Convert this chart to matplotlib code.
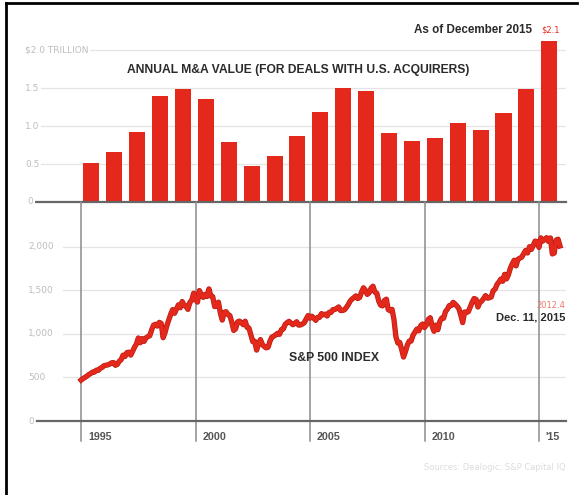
import numpy as np
import matplotlib
matplotlib.use("Agg")
import matplotlib.pyplot as plt
import matplotlib.patheffects as pe
from matplotlib.transforms import blended_transform_factory as blend

# annual M&A value, trillions of dollars (deals with U.S. acquirers)
years = list(range(1995, 2016))
ma_value = [0.51, 0.66, 0.92, 1.39, 1.49, 1.36, 0.79, 0.47, 0.60, 0.87,
            1.18, 1.50, 1.46, 0.91, 0.80, 0.84, 1.04, 0.95, 1.17, 1.49, 2.12]

# S&P 500, month-end closes 1995-2015 (last point Dec. 11, 2015)
sp500 = [
    470, 487, 501, 515, 533, 545, 562, 562, 584, 582, 605, 616,
    636, 640, 645, 654, 669, 671, 640, 652, 687, 705, 757, 741,
    786, 791, 757, 801, 848, 885, 954, 899, 947, 915, 955, 970,
    980, 1049, 1102, 1112, 1091, 1134, 1121, 957, 1017, 1099, 1164, 1229,
    1280, 1238, 1286, 1335, 1302, 1373, 1329, 1320, 1283, 1363, 1389, 1469,
    1394, 1366, 1499, 1452, 1421, 1455, 1431, 1518, 1437, 1429, 1315, 1320,
    1366, 1240, 1160, 1249, 1256, 1224, 1211, 1134, 1041, 1060, 1139, 1148,
    1130, 1107, 1147, 1077, 1067, 990, 912, 916, 815, 886, 936, 880,
    856, 841, 848, 917, 964, 975, 990, 1008, 996, 1051, 1058, 1112,
    1131, 1145, 1126, 1107, 1121, 1141, 1102, 1104, 1115, 1130, 1174, 1212,
    1181, 1204, 1181, 1157, 1192, 1191, 1234, 1220, 1229, 1207, 1249, 1248,
    1280, 1281, 1295, 1311, 1270, 1270, 1277, 1304, 1336, 1378, 1401, 1418,
    1438, 1407, 1421, 1482, 1531, 1503, 1455, 1474, 1527, 1549, 1481, 1468,
    1379, 1331, 1323, 1386, 1400, 1280, 1267, 1283, 1165, 969, 896, 903,
    826, 735, 798, 873, 919, 919, 987, 1021, 1057, 1036, 1096, 1115,
    1074, 1104, 1169, 1187, 1089, 1031, 1102, 1049, 1141, 1183, 1181, 1258,
    1286, 1327, 1326, 1364, 1345, 1321, 1292, 1219, 1131, 1253, 1247, 1258,
    1312, 1366, 1408, 1398, 1310, 1362, 1379, 1407, 1441, 1412, 1416, 1426,
    1498, 1515, 1569, 1598, 1631, 1606, 1686, 1633, 1682, 1757, 1806, 1848,
    1783, 1859, 1872, 1884, 1924, 1960, 1931, 2003, 1972, 2018, 2068, 2059,
    1995, 2105, 2068, 2086, 2107, 2063, 2104, 1920, 1930, 2079, 2090, 2012,
]
sp_dates = 1995 + np.arange(len(sp500)) / 12.0

bar_ticks = [0.5, 1.0, 1.5, 2.0]
bar_labels = ["0.5", "1.0", "1.5", "$2.0 TRILLION"]
sp_ticks = [500, 1000, 1500, 2000]
sp_labels = ["500", "1,000", "1,500", "2,000"]
year_ticks = [1995, 2000, 2005, 2010, 2015]
year_labels = ["1995", "2000", "2005", "2010", "'15"]

RED = "#e5281c"
GRID = "#e4e4e4"
DARK = "#2b2b2b"
W, H = 584, 495
BOLDFONT = ["Liberation Sans", "DejaVu Sans"]

fig = plt.figure(figsize=(W / 100, H / 100), dpi=100)
fig.patch.set_facecolor("white")


def frac(x0, y0, x1, y1):
    # pixel box -> figure fraction [left, bottom, width, height]
    return [x0 / W, 1 - y1 / H, (x1 - x0) / W, (y1 - y0) / H]


ax1 = fig.add_axes(frac(25, 38, 566, 202))
ax2 = fig.add_axes(frac(25, 202, 566, 421))

xlim = (1992.55, 2016.18)
for ax in (ax1, ax2):
    ax.set_xlim(*xlim)
    ax.axis("off")

# --- top: bars
ax1.set_ylim(0, 2.16)
for t in bar_ticks:
    ax1.axhline(t, color=GRID, lw=0.9, zorder=0)
ax1.bar([y + 0.45 for y in years], ma_value, width=0.7, color=RED, zorder=2)
ax1.axhline(0, color="#666666", lw=1.6, xmin=0.015, zorder=3, clip_on=False)
tr1 = blend(ax1.transAxes, ax1.transData)
for t, lab in zip(bar_ticks, bar_labels):
    ax1.text(0.0, t, lab, transform=tr1, ha="left", va="center", fontsize=6.5,
             color="#bdbdbd", zorder=4,
             bbox=dict(facecolor="white", edgecolor="none", pad=1.0))
ax1.text(0.005, 0, "0", transform=tr1, ha="left", va="center", fontsize=6.5,
         color="#bdbdbd", zorder=4,
         bbox=dict(facecolor="white", edgecolor="none", pad=1.0))

# --- bottom: S&P line
ax2.set_ylim(0, 2517)
for t in sp_ticks:
    ax2.axhline(t, color=GRID, lw=0.9, xmin=0.07, zorder=0)
for yr in year_ticks:
    ax2.axvline(yr, ymin=-0.09, ymax=1.0, color="#8c8c8c", lw=1.1,
                zorder=1, clip_on=False)
ax2.axhline(0, color="#666666", lw=1.6, xmin=0.022, zorder=3, clip_on=False)
ax2.plot(sp_dates, sp500, color=RED, lw=2.8, zorder=5,
         path_effects=[pe.Stroke(linewidth=3.8, foreground="#b81c12"),
                       pe.Normal()])
tr2 = blend(ax2.transAxes, ax2.transData)
for t, lab in zip(sp_ticks + [0], sp_labels + ["0"]):
    ax2.text(0.006, t, lab, transform=tr2, ha="left", va="center",
             fontsize=6.5, color="#bdbdbd", zorder=4,
             bbox=dict(facecolor="white", edgecolor="none", pad=1.0))
trx = blend(ax2.transData, ax2.transAxes)
for yr, lab in zip(year_ticks, year_labels):
    ax2.text(yr + 0.3, -0.073, lab, transform=trx, ha="left", va="center",
             fontsize=7.7, fontweight="bold", color="#555555", family=BOLDFONT)


# --- annotations
def ftext(x, y, s, **kw):
    fig.text(x / W, 1 - y / H, s, **kw)


ftext(298, 70, "ANNUAL M&A VALUE (FOR DEALS WITH U.S. ACQUIRERS)",
      ha="center", va="center", fontsize=8.7, fontweight="bold",
      color=DARK, family=BOLDFONT)
ftext(532, 30, "As of December 2015", ha="right", va="center",
      fontsize=8.4, fontweight="bold", color=DARK, family=BOLDFONT)
ftext(541, 30, "$2.1", ha="left", va="center", fontsize=6, color=RED)
ftext(334, 358, "S&P 500 INDEX", ha="center", va="center",
      fontsize=8.8, fontweight="bold", color=DARK, family=BOLDFONT)
ftext(565, 305, "2012.4", ha="right", va="center", fontsize=6,
      color="#e87a6e")
ftext(565, 318, "Dec. 11, 2015", ha="right", va="center",
      fontsize=8, fontweight="bold", color=DARK, family=BOLDFONT)
ftext(566, 467, "Sources: Dealogic; S&P Capital IQ", ha="right", va="center",
      fontsize=6, color="#dcdcdc")

# frame (left and top edges)
fig.add_artist(plt.Line2D([6 / W, 6 / W], [0, 1 - 3 / H], color="black",
                          lw=2, transform=fig.transFigure))
fig.add_artist(plt.Line2D([6 / W, 577 / W], [1 - 3 / H, 1 - 3 / H],
                          color="black", lw=2, transform=fig.transFigure))

fig.savefig("out.png", dpi=100)
